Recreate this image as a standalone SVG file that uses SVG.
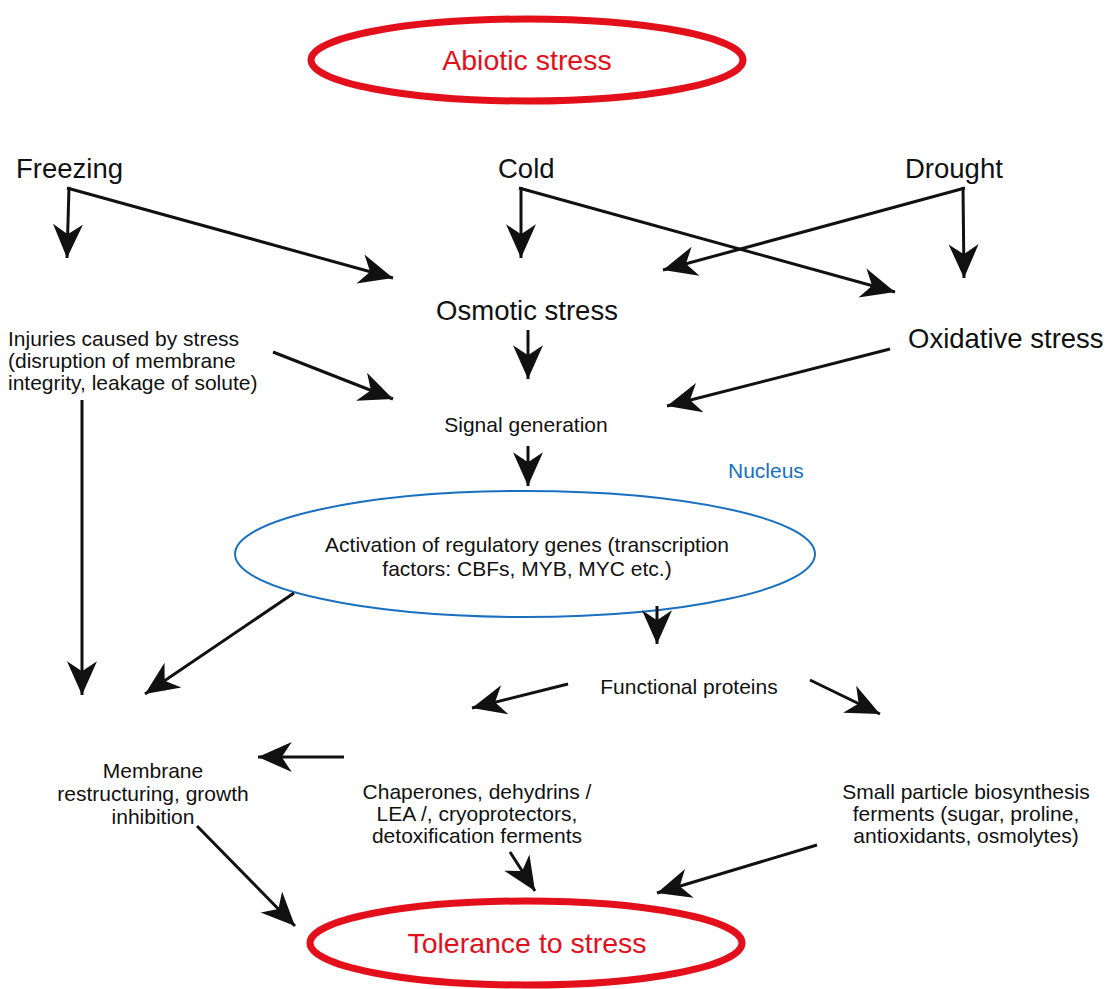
<svg xmlns="http://www.w3.org/2000/svg" width="1115" height="989" viewBox="0 0 1115 989">
<style>
text{font-family:"Liberation Sans","DejaVu Sans",sans-serif;fill:#111;}
.big{font-size:27.5px;}
.med{font-size:21px;}
.red{fill:#e3101c;font-size:28.5px;}
.blue{fill:#1a70c0;font-size:21px;}
.c{text-anchor:middle;}
.conn line{stroke:#111;stroke-width:3;fill:none;marker-end:url(#ah);}
</style>
<defs>
<marker id="ah" markerUnits="userSpaceOnUse" markerWidth="40" markerHeight="40" viewBox="-30 -15 32 30" refX="0" refY="0" orient="auto">
<path d="M0,0 L-27,-12 L-19,0 L-27,12 Z" fill="#111"/>
</marker>
</defs>
<rect width="1115" height="989" fill="#fff"/>

<g id="abiotic">
<ellipse cx="527" cy="60" rx="216" ry="41" fill="none" stroke="#e3101c" stroke-width="7"/>
<text class="red c" x="527" y="70">Abiotic stress</text>
</g>
<g id="freezing"><text class="big" x="16" y="178">Freezing</text></g>
<g id="cold"><text class="big" x="498" y="178">Cold</text></g>
<g id="drought"><text class="big" x="905" y="178">Drought</text></g>
<g id="osmotic"><text class="big c" x="527" y="320">Osmotic stress</text></g>
<g id="oxidative"><text class="big" x="908" y="348">Oxidative stress</text></g>
<g id="injuries">
<text class="med" x="8" y="346">Injuries caused by stress</text>
<text class="med" x="8" y="368">(disruption of membrane</text>
<text class="med" x="8" y="390">integrity, leakage of solute)</text>
</g>
<g id="signal"><text class="med c" x="526" y="432">Signal generation</text></g>
<g id="nucleus-label"><text class="blue" x="728" y="478">Nucleus</text></g>
<g id="activation">
<ellipse cx="525" cy="554" rx="290" ry="63" fill="none" stroke="#1a70c0" stroke-width="2"/>
<text class="med c" x="527" y="552">Activation of regulatory genes (transcription</text>
<text class="med c" x="527" y="576">factors: CBFs, MYB, MYC etc.)</text>
</g>
<g id="functional"><text class="med c" x="689" y="694">Functional proteins</text></g>
<g id="membrane">
<text class="med c" x="153" y="778">Membrane</text>
<text class="med c" x="153" y="801">restructuring, growth</text>
<text class="med c" x="153" y="824">inhibition</text>
</g>
<g id="chaperones">
<text class="med c" x="477" y="799">Chaperones, dehydrins /</text>
<text class="med c" x="477" y="821">LEA /, cryoprotectors,</text>
<text class="med c" x="477" y="843">detoxification ferments</text>
</g>
<g id="small-particle">
<text class="med c" x="966" y="799">Small particle biosynthesis</text>
<text class="med c" x="966" y="821">ferments (sugar, proline,</text>
<text class="med c" x="966" y="843">antioxidants, osmolytes)</text>
</g>
<g id="tolerance">
<ellipse cx="526" cy="943" rx="216" ry="42" fill="none" stroke="#e3101c" stroke-width="7"/>
<text class="red c" x="527" y="953">Tolerance to stress</text>
</g>

<g class="conn" id="connectors">
<line x1="69" y1="187" x2="67" y2="258"/>
<line x1="67" y1="188" x2="393" y2="278"/>
<line x1="521" y1="187" x2="521" y2="258"/>
<line x1="519" y1="188" x2="895" y2="292"/>
<line x1="963" y1="187" x2="964" y2="278"/>
<line x1="965" y1="188" x2="663" y2="270"/>
<line x1="528" y1="330" x2="528" y2="379"/>
<line x1="273" y1="352" x2="393" y2="399"/>
<line x1="890" y1="349" x2="667" y2="406"/>
<line x1="528" y1="446" x2="528" y2="486"/>
<line x1="82" y1="400" x2="82" y2="695"/>
<line x1="294" y1="593" x2="145" y2="694"/>
<line x1="657" y1="606" x2="657" y2="644"/>
<line x1="568" y1="684" x2="472" y2="708"/>
<line x1="810" y1="680" x2="880" y2="714"/>
<line x1="344" y1="757" x2="258" y2="757"/>
<line x1="197" y1="826" x2="295" y2="926"/>
<line x1="510" y1="852" x2="535" y2="891"/>
<line x1="817" y1="845" x2="657" y2="893"/>
</g>
</svg>
